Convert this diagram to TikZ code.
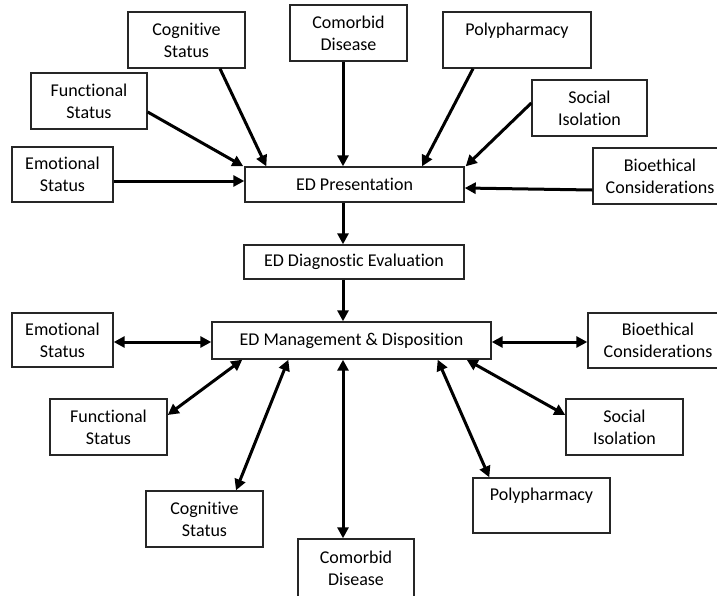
\documentclass[tikz,border=0pt]{standalone}
\usepackage{fontspec}
\setmainfont{Carlito}[RawFeature={-liga;-clig;-dlig}]
\usetikzlibrary{arrows.meta}
\begin{document}
\begin{tikzpicture}[x=1pt,y=-1pt,
  box/.style={draw=black!85,line width=1.4pt,inner sep=0pt,align=center,
    font=\fontsize{18}{22}\selectfont},
  arr/.style={line width=3pt,-{Triangle[length=11pt,width=11pt]}},
  darr/.style={line width=3pt,{Triangle[length=11pt,width=11pt]}-{Triangle[length=11pt,width=11pt]}}]
\useasboundingbox[fill=white] (0,0) rectangle (717,595);
\coordinate (sp) at (343,0);
% top boxes
\node[box,minimum width=117pt,minimum height=56pt] (cogT) at (186.5,40) {Cognitive\\Status};
\node[box,minimum width=117pt,minimum height=56pt] (comT) at (348.5,33) {Comorbid\\Disease};
\node[box,minimum width=148pt,minimum height=56pt] (polyT) at (517,40) {Polypharmacy\\\phantom{S}};
\node[box,minimum width=115pt,minimum height=56pt] (socT) at (589.5,108) {Social\\Isolation};
\node[box,minimum width=134pt,minimum height=56pt] (bioT) at (660,176) {Bioethical\\Considerations};
\node[box,minimum width=116pt,minimum height=56pt] (funT) at (89,101) {Functional\\Status};
\node[box,minimum width=101pt,minimum height=55pt] (emoT) at (62.5,174.5) {Emotional\\Status};
% central
\node[box,minimum width=219pt,minimum height=35pt] (pres) at (354.5,184.5) {ED Presentation};
\node[box,minimum width=220pt,minimum height=34pt] (diag) at (354,262) {ED Diagnostic Evaluation};
\node[box,minimum width=279pt,minimum height=37pt] (mgmt) at (351.5,340.5) {ED Management \& Disposition};
% bottom boxes
\node[box,minimum width=101pt,minimum height=54pt] (emoB) at (62.5,340) {Emotional\\Status};
\node[box,minimum width=140pt,minimum height=55pt] (bioB) at (658,340.5) {Bioethical\\Considerations};
\node[box,minimum width=117pt,minimum height=56pt] (funB) at (108.5,427) {Functional\\Status};
\node[box,minimum width=117pt,minimum height=56pt] (socB) at (624.5,427) {Social\\Isolation};
\node[box,minimum width=117pt,minimum height=56pt] (cogB) at (204.5,519) {Cognitive\\Status};
\node[box,minimum width=137pt,minimum height=55pt] (polyB) at (541.5,505.5) {Polypharmacy\\\phantom{S}};
\node[box,minimum width=116pt,minimum height=58pt] (comB) at (356,568) {Comorbid\\Disease};
% top arrows
\draw[arr] ([yshift=-6.5pt]emoT.east) -- ([yshift=3.5pt]pres.west);
\draw[arr] ([yshift=-11pt]funT.east) -- ([xshift=-1pt]pres.north west);
\draw[arr] ([xshift=33.5pt]cogT.south) -- ([xshift=22pt]pres.north west);
\draw[arr] (comT.south -| sp) -- (pres.north -| sp);
\draw[arr] ([xshift=-44pt]polyT.south) -- ([xshift=67.5pt]pres.north);
\draw[arr] ([yshift=5pt]socT.west) -- ([xshift=1pt]pres.north east);
\draw[arr] ([yshift=-14pt]bioT.west) -- ([yshift=-3.5pt]pres.east);
% spine
\draw[arr] (pres.south -| sp) -- (diag.north -| sp);
\draw[arr] (diag.south -| sp) -- (mgmt.north -| sp);
% bottom arrows
\draw[darr] ([yshift=-2pt]emoB.east) -- ([yshift=-1.5pt]mgmt.west);
\draw[darr] ([yshift=-1.5pt]mgmt.east) -- ([yshift=-1.5pt]bioB.west);
\draw[darr] ([yshift=12pt]funB.east) -- ([xshift=31pt]mgmt.south west);
\draw[darr] ([xshift=31.5pt]cogB.north) -- ([xshift=77pt]mgmt.south west);
\draw[darr] (mgmt.south -| sp) -- (comB.north -| sp);
\draw[darr] ([xshift=17pt]polyB.north west) -- ([xshift=-54pt]mgmt.south east);
\draw[darr] ([yshift=12pt]socB.west) -- ([xshift=-25pt]mgmt.south east);
\end{tikzpicture}
\end{document}
